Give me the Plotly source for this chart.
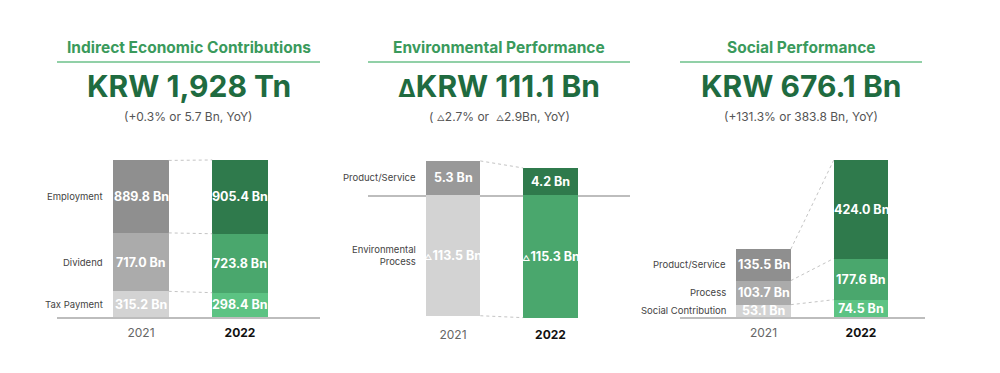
import plotly.graph_objects as go

# ---------------- data ----------------
years = ["2021", "2022"]
year_ticks = ["<span style='color:#666666'>2021</span>", "<b>2022</b>"]

econ_categories = ["Tax Payment", "Dividend", "Employment"]
econ_2021 = [315.2, 717.0, 889.8]
econ_2022 = [298.4, 723.8, 905.4]

env_categories = ["Product/Service", "Environmental<br>Process"]
env_product = [5.3, 4.2]          # 2021, 2022
env_process = [-113.5, -115.3]    # 2021, 2022 (△ = negative)

soc_categories = ["Social Contribution", "Process", "Product/Service"]
soc_2021 = [53.1, 103.7, 135.5]
soc_2022 = [74.5, 177.6, 424.0]

titles = ["Indirect Economic Contributions", "Environmental Performance", "Social Performance"]
headlines = ["KRW 1,928 Tn",
             "<span style='font-size:24px'>Δ</span>KRW 111.1 Bn",
             "KRW 676.1 Bn"]
subtitles = ["(+0.3% or 5.7 Bn, YoY)",
             "( <span style='font-size:8px'>△</span>2.7% or  <span style='font-size:8px'>△</span>2.9Bn, YoY)",
             "(+131.3% or 383.8 Bn, YoY)"]

# ---------------- styles ----------------
W, H = 1000, 373
FONT = "Inter"
GRAYS = ["#d3d3d3", "#ababab", "#8f8f8f"]
GREENS = ["#5cc383", "#4aa76d", "#2f7a4c"]
TITLE_GREEN = "#3a9a5c"
HEAD_GREEN = "#1f6b40"
BAR_W = 0.56

def px_x(p):
    return p / W

def px_y(p):
    return 1 - p / H

fig = go.Figure()
annotations = []
shapes = []

def seg_label(xref, yref, x, y, v, delta=False):
    prefix = "<span style='font-size:8px'>△</span>" if delta else ""
    annotations.append(dict(x=x, y=y, xref=xref, yref=yref, text=prefix + f"{abs(v):.1f} Bn",
                            showarrow=False, xanchor="center", yanchor="middle",
                            font=dict(family=FONT, size=12.5, color="white", weight="bold")))

def cat_label(xref, yref, y, text):
    annotations.append(dict(x=-BAR_W / 2, y=y, xref=xref, yref=yref, text=text, showarrow=False,
                            xanchor="right", yanchor="middle", xshift=-8, align="right",
                            font=dict(family=FONT, size=9.5, color="#444444")))

def connector(xa, ya, y0, y1):
    fig.add_trace(go.Scatter(x=[BAR_W / 2, 1 - BAR_W / 2], y=[y0, y1], mode="lines",
                             line=dict(color="#c4c4c4", width=1, dash="dot"),
                             xaxis=xa, yaxis=ya, hoverinfo="skip", showlegend=False))

def stacked_panel(xa, ya, cats, v21, v22):
    c21 = 0.0
    c22 = 0.0
    for k, (cat, a, b) in enumerate(zip(cats, v21, v22)):
        fig.add_trace(go.Bar(x=[0, 1], y=[a, b], width=BAR_W, xaxis=xa, yaxis=ya,
                             marker=dict(color=[GRAYS[k], GREENS[k]], line=dict(width=0)),
                             showlegend=False, hoverinfo="skip"))
        seg_label(xa, ya, 0, c21 + a / 2, a)
        seg_label(xa, ya, 1, c22 + b / 2, b)
        cat_label(xa, ya, c21 + a / 2, cat)
        c21 += a
        c22 += b
        connector(xa, ya, c21, c22)

# Panel 1
stacked_panel("x", "y", econ_categories, econ_2021, econ_2022)
# Panel 3
stacked_panel("x4", "y4", soc_categories, soc_2021, soc_2022)

# Panel 2 (top: product/service, bottom: environmental process)
fig.add_trace(go.Bar(x=[0, 1], y=env_product, width=BAR_W, xaxis="x2", yaxis="y2",
                     marker=dict(color=["#999999", GREENS[2]], line=dict(width=0)),
                     showlegend=False, hoverinfo="skip"))
fig.add_trace(go.Bar(x=[0, 1], y=env_process, width=BAR_W, xaxis="x3", yaxis="y3",
                     marker=dict(color=["#d3d3d3", GREENS[1]], line=dict(width=0)),
                     showlegend=False, hoverinfo="skip"))
for i in range(2):
    seg_label("x2", "y2", i, env_product[i] / 2, env_product[i])
    seg_label("x3", "y3", i, env_process[i] / 2, env_process[i], delta=True)
cat_label("x2", "y2", env_product[0] / 2, env_categories[0])
cat_label("x3", "y3", env_process[0] / 2, env_categories[1])
connector("x2", "y2", env_product[0], env_product[1])
connector("x3", "y3", env_process[0], env_process[1])

# ---------------- headers ----------------
panel_spans = [(57, 320), (368, 630), (680, 922)]
for (l, r), t, h, s in zip(panel_spans, titles, headlines, subtitles):
    cx = px_x((l + r) / 2)
    common = dict(x=cx, xref="paper", yref="paper", showarrow=False, xanchor="center", yanchor="middle")
    annotations.append(dict(common, y=px_y(48), text=t,
                            font=dict(family=FONT, size=15.5, color=TITLE_GREEN, weight="bold")))
    annotations.append(dict(common, y=px_y(86), text=h,
                            font=dict(family=FONT, size=30, color=HEAD_GREEN, weight="bold")))
    annotations.append(dict(common, y=px_y(116), text=s,
                            font=dict(family=FONT, size=12, color="#555555")))
    shapes.append(dict(type="line", xref="paper", yref="paper", x0=px_x(l), x1=px_x(r),
                       y0=px_y(62), y1=px_y(62), line=dict(color="#6cc08a", width=1.5)))

# ---------------- axes ----------------
def xaxis(l, r, cx0, cx1, anchor, show_labels=True, show_line=True, standoff=6, lw=2):
    d = (cx1 - cx0)
    return dict(domain=[px_x(l), px_x(r)], range=[-(cx0 - l) / d, 1 + (r - cx1) / d],
                anchor=anchor, tickvals=[0, 1], ticktext=year_ticks, showticklabels=show_labels,
                tickfont=dict(family=FONT, size=12, color="#111111"), ticks="",
                ticklabelstandoff=standoff,
                showgrid=False, zeroline=False, showline=show_line, linecolor="#bdbdbd",
                linewidth=lw, fixedrange=True)

def yaxis(pb, pt, rng, anchor):
    return dict(domain=[px_y(pb), px_y(pt)], range=rng, anchor=anchor, visible=False,
                showgrid=False, zeroline=False, fixedrange=True)

fig.update_layout(
    width=W, height=H, margin=dict(l=0, r=0, t=0, b=0),
    paper_bgcolor="white", plot_bgcolor="white", barmode="stack", bargap=0,
    showlegend=False,
    xaxis=xaxis(57, 320, 141, 240, "y", standoff=4),
    yaxis=yaxis(317, 150, [0, 2050], "x"),
    xaxis2=xaxis(368, 630, 453, 550.5, "y2", show_labels=False, lw=1.5),
    yaxis2=yaxis(195, 150, [0, 7.0], "x2"),
    xaxis3=xaxis(368, 630, 453, 550.5, "y3", show_line=False, standoff=6),
    yaxis3=yaxis(320, 195, [-117.5, 0], "x3"),
    xaxis4=xaxis(680, 925, 763.5, 861, "y4", standoff=4),
    yaxis4=yaxis(317, 150, [0, 720], "x4"),
    annotations=annotations,
    shapes=shapes,
)

fig.write_html("out.html", config={"displayModeBar": False},
               post_script="document.body.style.margin='0px';")
